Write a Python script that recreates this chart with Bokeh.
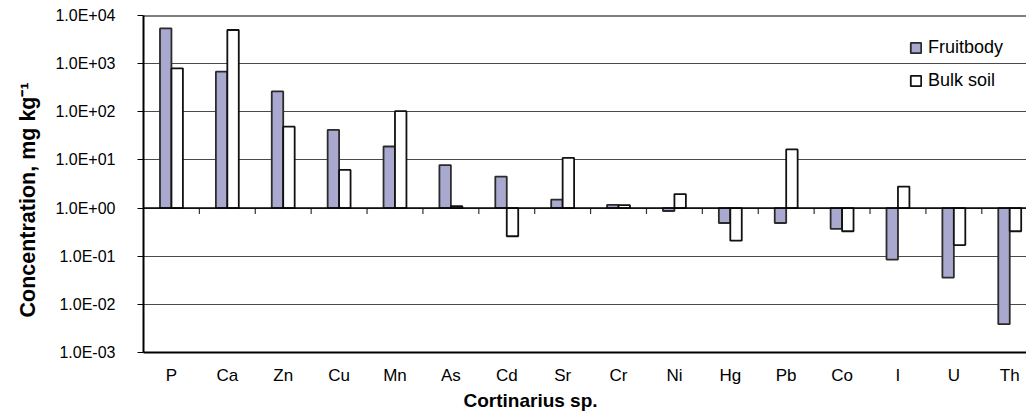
from bokeh.plotting import figure
from bokeh.models import (Range1d, FixedTicker, CustomJSTickFormatter, Span,
                          Legend, LegendItem, Title, ColumnDataSource)
from bokeh.embed import file_html
from bokeh.resources import INLINE
import numpy as np

# Element concentrations (mg/kg) in Cortinarius sp. fruitbodies and bulk soil
elements = ["P", "Ca", "Zn", "Cu", "Mn", "As", "Cd", "Sr",
            "Cr", "Ni", "Hg", "Pb", "Co", "I", "U", "Th"]
fruitbody = [5400, 680, 265, 42, 19, 7.8, 4.5, 1.5,
             1.17, 0.87, 0.49, 0.49, 0.37, 0.085, 0.036, 0.0039]
bulk_soil = [800, 5000, 49, 6.2, 103, 1.1, 0.26, 11,
             1.15, 1.95, 0.21, 16.5, 0.33, 2.8, 0.17, 0.33]
decades = [1e-3, 1e-2, 1e-1, 1e0, 1e1, 1e2, 1e3, 1e4]

FONT = "Liberation Sans"
FRUIT_COLOR = "#a9a9d0"

n = len(elements)
centers = np.arange(n) + 0.5
bar_w = 0.205

src = ColumnDataSource(dict(
    x_f=centers - bar_w / 2, x_b=centers + bar_w / 2,
    fruit=fruitbody, soil=bulk_soil, base=[1.0] * n,
))

p = figure(width=1026, height=417, y_axis_type="log",
           x_range=Range1d(0, 15.8), y_range=Range1d(1e-3, 1e4),
           output_backend="svg", toolbar_location=None,
           min_border_left=143, min_border_right=0,
           min_border_top=15, min_border_bottom=65)
p.outline_line_color = None
p.background_fill_color = "white"

# horizontal grid at each decade
p.xgrid.grid_line_color = None
p.ygrid.ticker = FixedTicker(ticks=decades, minor_ticks=[])
p.ygrid.grid_line_color = "#4a4a4a"
p.ygrid.grid_line_width = 1

# y axis
p.yaxis.ticker = FixedTicker(ticks=decades, minor_ticks=[])
p.yaxis.formatter = CustomJSTickFormatter(code="""
    const e = Math.round(Math.log10(tick));
    const a = Math.abs(e);
    return '1.0E' + (e < 0 ? '-' : '+') + (a < 10 ? '0' : '') + a;
""")
p.yaxis.major_tick_out = 6
p.yaxis.major_tick_in = 0
p.yaxis.minor_tick_line_color = None
p.yaxis.axis_line_color = "black"
p.yaxis.axis_line_width = 2
p.yaxis.major_tick_line_color = "black"
p.yaxis.major_label_text_font = FONT
p.yaxis.major_label_text_font_size = "16px"
p.yaxis.major_label_text_color = "black"
p.yaxis.major_label_standoff = 22

# x axis: element names under each category
p.xaxis.ticker = FixedTicker(ticks=list(centers), minor_ticks=[])
p.xaxis.formatter = CustomJSTickFormatter(args=dict(labels=elements),
                                          code="return labels[Math.floor(tick)];")
p.xaxis.major_tick_line_color = None
p.xaxis.minor_tick_line_color = None
p.xaxis.axis_line_color = "black"
p.xaxis.axis_line_width = 2
p.xaxis.major_label_text_font = FONT
p.xaxis.major_label_text_font_size = "17px"
p.xaxis.major_label_text_color = "black"
p.xaxis.major_label_standoff = 7

# top frame line and the 1.0 baseline
p.add_layout(Span(location=1e4, dimension="width", line_color="black", line_width=2))
p.add_layout(Span(location=1.0, dimension="width", line_color="black", line_width=1.5))

# category tick marks hanging from the baseline
bounds = np.arange(1, n + 1)
p.segment(x0=bounds, y0=[1.0] * n, x1=bounds, y1=[0.75] * n,
          line_color="#333333", line_width=1.2)

r_f = p.vbar(x="x_f", width=bar_w, bottom="base", top="fruit", source=src,
             fill_color=FRUIT_COLOR, line_color="#2b2b2b", line_width=1.8)
r_b = p.vbar(x="x_b", width=bar_w, bottom="base", top="soil", source=src,
             fill_color="white", line_color="#111111", line_width=1.8)

legend = Legend(items=[LegendItem(label="Fruitbody", renderers=[r_f]),
                       LegendItem(label="Bulk soil", renderers=[r_b])],
                location=(766, 261), glyph_width=13, glyph_height=13,
                label_text_font=FONT, label_text_font_size="18px",
                label_text_color="black",
                label_standoff=6, spacing=12, padding=0, margin=0,
                border_line_color=None, background_fill_alpha=0)
p.add_layout(legend, "center")

xt = Title(text="Cortinarius sp.", align="left", offset=320, standoff=1,
           text_font=FONT, text_font_size="19px", text_font_style="bold",
           text_color="black")
p.add_layout(xt, "below")

yt = Title(text="Concentration, mg kg\u207b\u00b9", align="left", offset=35,
           standoff=25, text_font=FONT, text_font_size="21.5px",
           text_font_style="bold", text_color="black")
p.add_layout(yt, "left")

open("out.html", "w").write(file_html(p, INLINE))
